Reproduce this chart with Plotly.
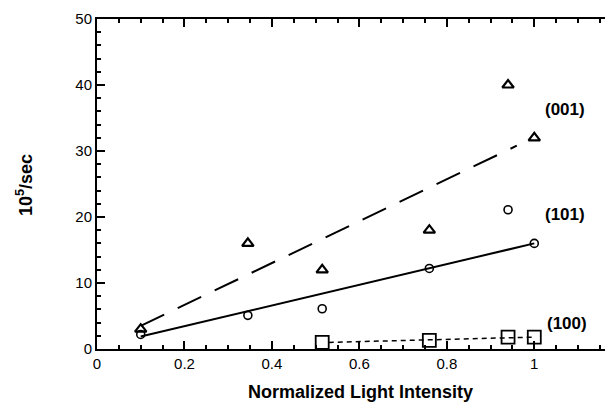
import plotly.graph_objects as go

x_vals = [0.1, 0.345, 0.515, 0.76, 0.94, 1.0]
tri_001 = [3.0, 16.0, 12.0, 18.0, 40.0, 32.0]
circ_101 = [2.2, 5.1, 6.1, 12.2, 21.1, 16.0]
sq_x = [0.515, 0.76, 0.94, 1.0]
sq_100 = [1.0, 1.3, 1.8, 1.8]

fit_x_001 = [0.1, 0.96]
fit_y_001 = [3.5, 30.8]
fit_x_101 = [0.1, 1.0]
fit_y_101 = [1.9, 16.0]
fit_x_100 = [0.53, 1.0]
fit_y_100 = [1.0, 1.8]

labels = ["(001)", "(101)", "(100)"]
label_x = [1.07, 1.07, 1.075]
label_y = [36.3, 20.4, 3.9]

FONT = "Liberation Sans, Arial, Helvetica"

fig = go.Figure()
fig.add_trace(go.Scatter(x=fit_x_001, y=fit_y_001, mode="lines",
                         line=dict(color="black", width=2, dash="26px,15px")))
fig.add_trace(go.Scatter(x=fit_x_101, y=fit_y_101, mode="lines",
                         line=dict(color="black", width=2)))
fig.add_trace(go.Scatter(x=fit_x_100, y=fit_y_100, mode="lines",
                         line=dict(color="black", width=1.5, dash="5px,4px")))
fig.add_trace(go.Scatter(x=x_vals, y=tri_001, mode="markers",
                         marker=dict(symbol="triangle-up-open", size=10, color="black", line=dict(width=2.2))))
fig.add_trace(go.Scatter(x=x_vals, y=circ_101, mode="markers",
                         marker=dict(symbol="circle-open", size=8, color="black", line=dict(width=1.6))))
fig.add_trace(go.Scatter(x=sq_x, y=sq_100, mode="markers",
                         marker=dict(symbol="square-open", size=13, color="black", line=dict(width=1.8))))

for t, lx, ly in zip(labels, label_x, label_y):
    fig.add_annotation(x=lx, y=ly, text="<b>" + t + "</b>", showarrow=False,
                       font=dict(size=17, color="black", family=FONT),
                       xanchor="center", yanchor="middle")

fig.add_annotation(x=0.51, y=0, xref="paper", yref="paper",
                   text="<b>Normalized Light Intensity</b>", showarrow=False,
                   font=dict(size=18, color="black", family=FONT),
                   xanchor="center", yanchor="middle", yshift=-43)
fig.add_annotation(x=0, y=0.497, xref="paper", yref="paper",
                   text="<b>10<sup>5</sup>/sec</b>", showarrow=False, textangle=-90,
                   font=dict(size=18, color="black", family=FONT),
                   xanchor="center", yanchor="middle", xshift=-72)

axis_common = dict(showgrid=False, zeroline=False, showline=True, linecolor="black", linewidth=2,
                   ticks="inside", tickcolor="black", tickwidth=2, ticklen=8, automargin=False,
                   tickfont=dict(size=15, family=FONT, color="black"))

# page body adds an 8px offset, so the figure is 8px smaller than the window
fig.update_layout(
    width=605, height=396,
    margin=dict(l=89, r=0, t=11, b=55),
    paper_bgcolor="white", plot_bgcolor="white",
    showlegend=False,
    font=dict(family=FONT, color="black"),
    xaxis=dict(range=[0, 1.18], tickvals=[0, 0.2, 0.4, 0.6, 0.8, 1.0],
               ticktext=["0", "0.2", "0.4", "0.6", "0.8", "1"], mirror="ticks",
               minor=dict(dtick=0.05, ticks="inside", ticklen=4, tickcolor="black", tickwidth=1.5),
               **axis_common),
    yaxis=dict(range=[0, 50], tickvals=[0, 10, 20, 30, 40, 50], mirror=False,
               minor=dict(dtick=2, ticks="inside", ticklen=4, tickcolor="black", tickwidth=1.5),
               **axis_common),
)

fig.write_html("out.html")
